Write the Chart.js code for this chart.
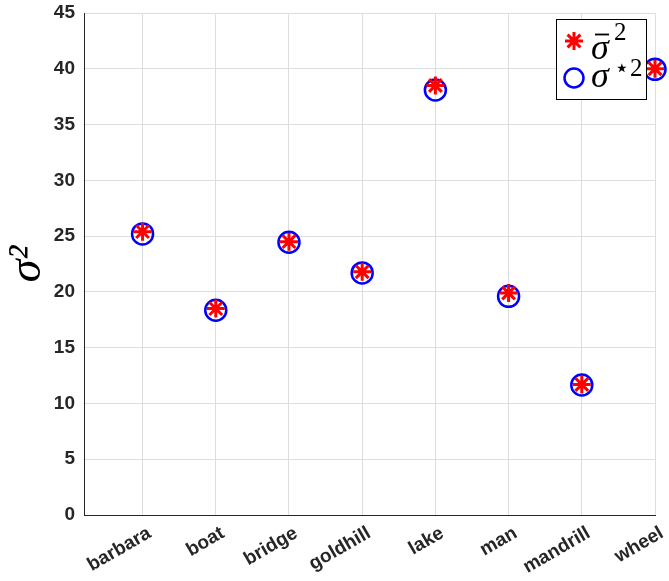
<!DOCTYPE html>
<html>
<head>
<meta charset="utf-8">
<script src="https://cdn.jsdelivr.net/npm/chart.js@4.4.1/dist/chart.umd.min.js"></script>
<style>
  html, body { margin: 0; padding: 0; background: #fff; }
  #wrap { width: 669px; height: 581px; }
</style>
</head>
<body>
<div id="wrap"><canvas id="chart-area"></canvas></div>
<script>
var images = ['barbara', 'boat', 'bridge', 'goldhill', 'lake', 'man', 'mandrill', 'wheel'];
var sigmaBar = [25.4, 18.5, 24.5, 21.8, 38.5, 19.9, 11.7, 40.0];
var sigmaStar = [25.2, 18.35, 24.45, 21.7, 38.1, 19.6, 11.65, 39.95];
var yTicks = [0, 5, 10, 15, 20, 25, 30, 35, 40, 45];

function toPoints(vals) {
  return vals.map(function(v, i) { return { x: i + 1, y: v }; });
}

// boxed legend with sub/superscripts, drawn at the top right
var boxLegend = {
  id: 'boxLegend',
  afterDraw: function(chart) {
    var ctx = chart.ctx;
    ctx.save();
    ctx.fillStyle = '#fff';
    ctx.fillRect(556, 19, 91, 80);
    ctx.strokeStyle = '#000';
    ctx.lineWidth = 1;
    ctx.strokeRect(556.5, 19.5, 90, 80);

    // star marker
    ctx.strokeStyle = '#ff0000';
    ctx.lineWidth = 3;
    ctx.beginPath();
    ctx.moveTo(565, 41); ctx.lineTo(583, 41);
    ctx.moveTo(574, 32); ctx.lineTo(574, 50);
    ctx.moveTo(567.6, 34.6); ctx.lineTo(580.4, 47.4);
    ctx.moveTo(580.4, 34.6); ctx.lineTo(567.6, 47.4);
    ctx.stroke();

    // circle marker
    ctx.strokeStyle = '#0000ff';
    ctx.lineWidth = 2.5;
    ctx.beginPath();
    ctx.arc(574, 78, 9.5, 0, Math.PI * 2);
    ctx.stroke();

    ctx.fillStyle = '#000';
    ctx.textBaseline = 'alphabetic';
    ctx.font = 'italic 36px "Liberation Serif"';
    ctx.fillText('\u03c3', 591, 59);
    ctx.fillText('\u03c3', 591, 87);
    // macron over the first sigma
    ctx.strokeStyle = '#000';
    ctx.lineWidth = 1.8;
    ctx.beginPath();
    ctx.moveTo(595, 34.5); ctx.lineTo(609, 34.5);
    ctx.stroke();
    ctx.font = '25px "Liberation Serif"';
    ctx.fillText('2', 614, 40);
    ctx.fillText('\u22c62', 614, 76);
    ctx.restore();
  }
};

var config = {
  type: 'scatter',
  data: {
    datasets: [{
      label: 'sigma bar',
      data: toPoints(sigmaBar),
      pointStyle: 'star',
      pointRadius: 9,
      pointHoverRadius: 9,
      borderColor: '#ff0000',
      backgroundColor: '#ff0000',
      pointBorderWidth: 3,
      clip: false
    }, {
      label: 'sigma star',
      data: toPoints(sigmaStar),
      pointStyle: 'circle',
      pointRadius: 10.5,
      pointHoverRadius: 10.5,
      borderColor: '#0000ff',
      backgroundColor: 'rgba(0,0,0,0)',
      pointBorderWidth: 2.5,
      clip: false
    }]
  },
  options: {
    responsive: true,
    maintainAspectRatio: false,
    animation: false,
    layout: { padding: { top: 10, right: 14, left: 0, bottom: 0 } },
    plugins: {
      legend: { display: false },
      tooltip: { enabled: false }
    },
    scales: {
      x: {
        type: 'linear',
        min: 0.2,
        max: 8,
        afterBuildTicks: function(scale) {
          scale.ticks = images.map(function(n, i) { return { value: i + 1 }; });
        },
        afterFit: function(scale) {
          scale.height = 66;
          scale.paddingLeft = 0;
          scale.paddingRight = 0;
        },
        grid: { color: '#dedede', drawTicks: false },
        border: { color: '#262626', width: 1 },
        ticks: {
          minRotation: 30,
          maxRotation: 30,
          padding: 7,
          labelOffset: 7,
          color: '#262626',
          font: { family: 'Liberation Sans', size: 19, weight: 'bold' },
          callback: function(v) { return images[v - 1]; }
        }
      },
      y: {
        min: 0,
        max: 45,
        afterBuildTicks: function(scale) {
          scale.ticks = yTicks.map(function(v) { return { value: v }; });
        },
        afterFit: function(scale) {
          scale.width = 84;
          scale.paddingTop = 0;
          scale.paddingBottom = 0;
        },
        grid: { color: '#dedede', drawTicks: false },
        border: { color: '#262626', width: 1 },
        title: {
          display: true,
          text: '\u03c3\u00b2',
          color: '#000',
          padding: 0,
          font: { family: 'Liberation Serif', size: 46, style: 'italic', weight: 'normal' }
        },
        ticks: {
          padding: 9,
          color: '#262626',
          font: { family: 'Liberation Sans', size: 19, weight: 'bold' }
        }
      }
    }
  },
  plugins: [boxLegend]
};

window.onload = function() {
  var ctx = document.getElementById('chart-area').getContext('2d');
  window.myScatter = new Chart(ctx, config);
};
</script>
</body>
</html>
